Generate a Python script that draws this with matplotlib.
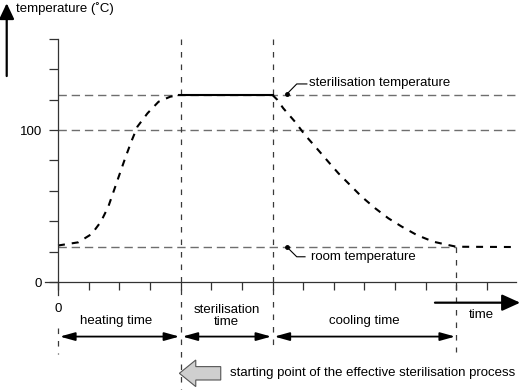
import matplotlib
matplotlib.use('Agg')
import matplotlib.pyplot as plt
from matplotlib.patches import FancyArrow

plt.rcParams['font.family'] = ['Liberation Sans', 'DejaVu Sans']
plt.rcParams['lines.scale_dashes'] = False

# Temperature curve (time in tick units, temperature in C).
heat_t = [0.0, 0.66, 1.10, 1.40, 1.64, 1.83, 2.00, 2.19, 2.39, 2.59, 2.92, 3.28, 3.66, 3.96]
heat_v = [24.0, 26.1, 31.6, 39.7, 49.5, 60.5, 70.4, 81.4, 92.3, 102.2, 111.0, 118.6, 121.9, 123.0]
hold_t = [3.96, 7.0]
hold_v = [123.0, 123.0]
cool_t = [7.0, 7.15, 7.35, 7.73, 8.06, 8.44, 8.82, 9.15, 9.53, 9.91, 10.35, 10.78,
          11.22, 11.71, 12.25, 12.74, 13.0, 14.97]
cool_v = [123.0, 120.0, 114.3, 105.5, 96.7, 88.0, 79.1, 71.5, 63.8, 56.1, 48.5, 41.9,
          36.4, 30.9, 26.5, 24.3, 23.2, 23.0]

steril_temp = 123.0
room_temp = 23.2
y_ticks = [0, 20, 40, 60, 80, 100, 120, 140, 160]
y_labels = ['0', '', '', '', '', '100', '', '', '']
x_ticks = list(range(15))
x_labels = ['0'] + [''] * 14
t_heat_end, t_hold_end, t_cool_end = 4, 7, 13

fig = plt.figure(figsize=(5.22, 3.9), dpi=100)
ax = fig.add_axes([0, 0, 1, 1])
ax.set_xlim(-1.893, 15.14)
ax.set_ylim(-71.05, 185.53)

axc = '#333333'
for s in ['top', 'right']:
    ax.spines[s].set_visible(False)
ax.spines['left'].set_position(('data', 0))
ax.spines['bottom'].set_position(('data', 0))
ax.spines['left'].set_bounds(-8.5, 160)
ax.spines['bottom'].set_bounds(-0.42, 14.95)
for s in ['left', 'bottom']:
    ax.spines[s].set_color(axc)
    ax.spines[s].set_linewidth(0.9)
ax.set_yticks(y_ticks)
ax.set_yticklabels(y_labels)
ax.set_xticks(x_ticks)
ax.set_xticklabels(x_labels)
ax.tick_params(axis='y', direction='out', length=6.3, width=0.9, color=axc, pad=5,
               labelsize=9.5)
ax.tick_params(axis='x', direction='out', length=6, width=0.9, color=axc, pad=9,
               labelsize=9.5)

# reference lines
gray = '#6e6e6e'
for v in [steril_temp, 100]:
    ax.plot([0, 14.95], [v, v], color=gray, lw=1.0, ls=(0, (6, 3.5)))
ax.plot([0, t_cool_end], [room_temp, room_temp], color=gray, lw=1.0, ls=(0, (6, 3.5)))
vc = '#3a3a3a'
ax.plot([t_heat_end, t_heat_end], [160, -71], color=vc, lw=0.9, ls=(0, (4, 5)))
ax.plot([t_hold_end, t_hold_end], [160, -41.4], color=vc, lw=0.9, ls=(0, (4, 5)))
ax.plot([t_cool_end, t_cool_end], [room_temp, -46], color=vc, lw=0.9, ls=(0, (4, 5)))
ax.plot([0, 0], [-30.3, -47.4], color=vc, lw=0.9, ls=(0, (4, 5)))

# temperature curve
ax.plot(heat_t, heat_v, color='black', lw=1.5, ls=(0, (5, 5)))
ax.plot(hold_t, hold_v, color='black', lw=1.5)
ax.plot(cool_t, cool_v, color='black', lw=1.5, ls=(0, (5, 5)))

fs = 9.5
# leader labels
ax.plot([7.46, 7.79, 8.12], [123.5, 130.3, 130.3], color='black', lw=0.8)
ax.plot([7.46], [123.5], 'o', color='black', ms=2.5)
ax.text(8.20, 131.1, 'sterilisation temperature', fontsize=fs, va='center', ha='left')
ax.plot([7.46, 7.79, 8.06], [23.2, 16.6, 16.6], color='black', lw=0.8)
ax.plot([7.46], [23.2], 'o', color='black', ms=2.5)
ax.text(8.25, 16.6, 'room temperature', fontsize=fs, va='center', ha='left')

# axis arrows
ax.annotate('', xy=(-1.674, 183.4), xytext=(-1.674, 135.5),
            arrowprops=dict(arrowstyle='-|>,head_length=0.95,head_width=0.45',
                            color='black', lw=1.6, shrinkA=0, shrinkB=0))
ax.text(-1.37, 180.1, 'temperature (\u02daC)', fontsize=fs, va='center', ha='left')
ax.annotate('', xy=(15.08, -13.6), xytext=(12.30, -13.6),
            arrowprops=dict(arrowstyle='-|>,head_length=1.1,head_width=0.5',
                            color='black', lw=1.6, shrinkA=0, shrinkB=0))
ax.text(13.8, -21.4, 'time', fontsize=fs, va='center', ha='center')

# phase dimension arrows
dim_y = -35.9
for a, b in [(0, t_heat_end), (t_heat_end, t_hold_end), (t_hold_end, t_cool_end)]:
    ax.annotate('', xy=(b - 0.04, dim_y), xytext=(a + 0.06, dim_y),
                arrowprops=dict(arrowstyle='<|-|>,head_length=0.9,head_width=0.25',
                                color='black', lw=1.3, shrinkA=0, shrinkB=0))
ax.text(1.9, -25.5, 'heating time', fontsize=fs, va='center', ha='center')
ax.text(5.5, -22.2, 'sterilisation\ntime', fontsize=fs, va='center', ha='center',
        linespacing=1.0)
ax.text(10.0, -25.5, 'cooling time', fontsize=fs, va='center', ha='center')

# start marker
ax.add_patch(FancyArrow(5.31, -60.07, -1.35, 0, width=8.8, head_width=17.5,
                        head_length=0.535, length_includes_head=True,
                        fc='#cfcfcf', ec='#555555', lw=0.8))
ax.text(5.61, -59.9, 'starting point of the effective sterilisation process',
        fontsize=fs, va='center', ha='left')

fig.savefig('out.png', dpi=100)
